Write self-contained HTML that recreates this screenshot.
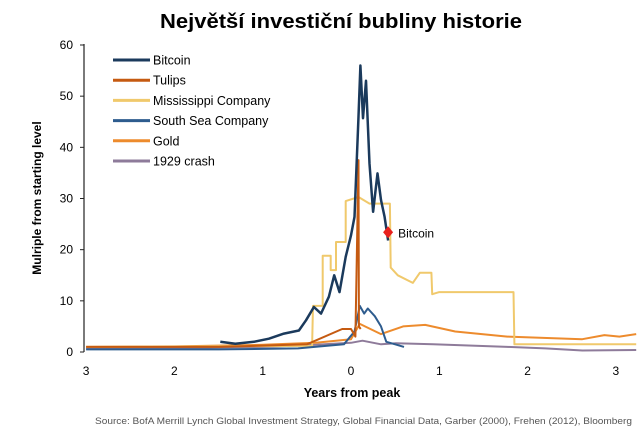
<!DOCTYPE html>
<html><head><meta charset="utf-8"><style>
html,body{margin:0;padding:0;background:#fff;}
svg{display:block;font-family:"Liberation Sans",sans-serif;}
</style></head><body>
<svg id="chart" width="640" height="434" viewBox="0 0 640 434" xmlns="http://www.w3.org/2000/svg">
<text x="341" y="28" text-anchor="middle" font-size="20" font-weight="bold" textLength="362" lengthAdjust="spacingAndGlyphs">Největší investiční bubliny historie</text>
<text transform="translate(41,198) rotate(-90)" text-anchor="middle" font-size="12" font-weight="bold">Mulriple from starting level</text>
<text x="352" y="397" text-anchor="middle" font-size="12.5" font-weight="bold">Years from peak</text>
<text x="95" y="424" font-size="9.5" fill="#555" textLength="537" lengthAdjust="spacingAndGlyphs">Source:  BofA Merrill Lynch Global Investment Strategy, Global Financial Data, Garber (2000), Frehen (2012),  Bloomberg</text>
<g id="axes"></g>
<g id="series"></g>
<g id="legend"></g>
</svg>
<script>
const yTicks=[0,10,20,30,40,50,60];
const xTicks=[-3,-2,-1,0,1,2,3];
const xTickLabels=["3","2","1","0","1","2","3"];
const bitcoinX=[-1.48,-1.31,-1.10,-0.93,-0.76,-0.59,-0.51,-0.42,-0.34,-0.25,-0.19,-0.13,-0.06,0,0.04,0.085,0.106,0.136,0.17,0.21,0.25,0.30,0.34,0.38,0.42];
const bitcoinY=[2,1.6,2,2.6,3.6,4.2,6.2,8.8,7.5,10.8,15,11.7,18.6,22.8,26.4,46,56,45.7,53,36.8,27.4,34.9,29.7,26.4,21.8];
const tulipsX=[-3,-1.5,-0.5,-0.1,0,0.05,0.085,0.09,0.11];
const tulipsY=[1,1,1.5,4.5,4.5,3,37.5,5,4.5];
const missX=[-3,-0.44,-0.43,-0.32,-0.32,-0.23,-0.23,-0.17,-0.17,-0.06,-0.06,0.085,0.21,0.22,0.44,0.45,0.53,0.70,0.78,0.91,0.92,1.0,1.84,1.85,3.23];
const missY=[1,1.2,9,9,18.8,18.8,16,16,21.5,21.5,29.5,30.3,29,29,29,16.5,15,13.5,15.5,15.5,11.3,11.7,11.7,1.5,1.5];
const southX=[-3,-1.5,-0.6,-0.08,0.04,0.1,0.15,0.19,0.27,0.34,0.4,0.5,0.6];
const southY=[0.5,0.5,0.7,1.5,4,9,7.5,8.5,7,5,2,1.5,1];
const goldX=[-3,-2,-1,-0.4,0,0.1,0.34,0.59,0.84,1.18,1.77,2.62,2.87,3.04,3.23];
const goldY=[1,1.1,1.4,1.8,2.5,5.5,3.5,5,5.3,4,3,2.5,3.3,3,3.5];
const crashX=[-3,-2,-1,-0.5,0,0.13,0.34,0.51,0.93,1.77,2.2,2.62,3.23];
const crashY=[0.7,0.8,1,1.3,1.8,2.2,1.5,1.7,1.5,1,0.7,0.3,0.4];
const legendNames=["Bitcoin","Tulips","Mississippi Company","South Sea Company","Gold","1929 crash"];
const legendColors=["#1b3a5c","#c55a11","#f0c96c","#2e5c8e","#ed8b2d","#8e7b9a"];

const NS="http://www.w3.org/2000/svg";
const xs=v=>351+v*88.3;
const ys=v=>352-v*(307/60);
function mk(tag,attrs,parent){const e=document.createElementNS(NS,tag);for(const k in attrs)e.setAttribute(k,attrs[k]);parent.appendChild(e);return e;}
const axes=document.getElementById('axes');
let yl=mk('line',{x1:84,y1:44,x2:84,y2:352,stroke:'#222','stroke-width':1.2},axes);


yTicks.forEach(t=>{
 const tk=mk('line',{x1:80,x2:84,y1:ys(t),y2:ys(t),stroke:'#222'},axes);
 
 
 const tx=mk('text',{x:73,y:ys(t)+4,'text-anchor':'end','font-size':12},axes);
 tx.textContent=t;
 
 
});
xTicks.forEach((t,i)=>{
 const tx=mk('text',{x:xs(t),y:375,'text-anchor':'middle','font-size':12},axes);
 tx.textContent=xTickLabels[i];
 
 
});
const series=document.getElementById('series');
function line(X,Y,color,w,name){
 const d=X.map((x,i)=>(i?'L':'M')+xs(x).toFixed(1)+','+ys(Y[i]).toFixed(1)).join('');
 const p=mk('path',{d:d,fill:'none',stroke:color,'stroke-width':w,'stroke-linejoin':'round'},series);
 
 
}
line(crashX,crashY,legendColors[5],2,'crash-1929-line');
line(goldX,goldY,legendColors[4],2,'gold-line');
line(missX,missY,legendColors[2],2,'mississippi-line');
line(southX,southY,legendColors[3],2,'south-sea-line');
line(tulipsX,tulipsY,legendColors[1],2,'tulips-line');
line(bitcoinX,bitcoinY,legendColors[0],2.5,'bitcoin-line');
const lx=bitcoinX[bitcoinX.length-1], lv=bitcoinY[bitcoinY.length-1]+1.6;
const mkr=mk('path',{d:`M${xs(lx)},${ys(lv)-6}l5,6l-5,6l-5,-6z`,fill:'#e8211d'},series);


const ml=mk('text',{x:xs(lx)+10,y:ys(lv)+5,'font-size':12},series);
ml.textContent='Bitcoin';


const legend=document.getElementById('legend');
legendNames.forEach((n,i)=>{
 const y=60+i*20.2;
 const g=mk('g',{},legend);
 
 
 mk('line',{x1:113,x2:150,y1:y,y2:y,stroke:legendColors[i],'stroke-width':3},g);
 const t=mk('text',{x:153,y:y+4.5,'font-size':12.5},g);
 t.textContent=n;
});
</script>
</body></html>
